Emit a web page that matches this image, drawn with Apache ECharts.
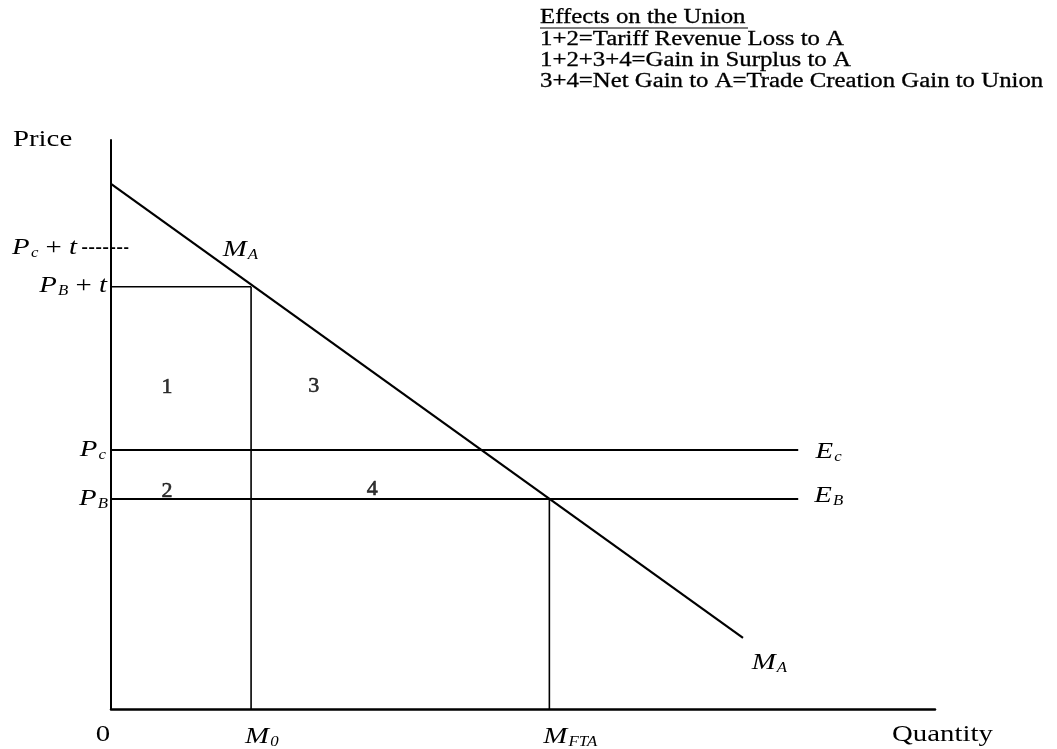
<!DOCTYPE html>
<html>
<head>
<meta charset="utf-8">
<title>Effects on the Union</title>
<script src="https://cdn.jsdelivr.net/npm/echarts@6/dist/echarts.min.js"></script>
<style>
  html, body { margin: 0; padding: 0; background: #fff; }
  #chart { width: 1057px; height: 749px; }
</style>
</head>
<body>
<div id="chart"></div>
<script>
// import demand curve M_A, end points (quantity, price)
const importDemand = [[0, 92.3], [76.7, 12.5]];
// price levels
const priceCt = 81.0;   // Pc + t
const priceBt = 74.2;   // PB + t
const priceC = 45.5;    // Pc
const priceB = 36.9;    // PB
// quantity levels
const qtyM0 = 17.0;
const qtyFTA = 53.2;
// where the E_c / E_B lines stop
const supplyEnd = 83.4;
// short dash of Pc + t across the price axis
const dashSpan = [-3.5, 2.1];
// area numbers
const areaNames = ['1', '2', '3', '4'];
const areaPoints = [[6.8, 56.6], [6.8, 38.2], [24.6, 56.8], [31.7, 38.6]];
// curve names
const curveNames = ['ma', 'ma', 'ec', 'eb'];
const curvePoints = [[15.7, 80.7], [79.9, 8.1], [87.1, 45.2], [87.1, 37.4]];
// legend block, top right
const noteTitle = 'Effects on the Union';
const notes = [
  '1+2=Tariff Revenue Loss to A',
  '1+2+3+4=Gain in Surplus to A',
  '3+4=Net Gain to A=Trade Creation Gain to Union'
];

const SERIF = '"Liberation Serif", "DejaVu Serif", serif';
const INK = '#000';
// the scan is stretched sideways, so text is widened to match
const STRETCH = 1.2;
const NOTE_STRETCH = 1.24;

// rich styles for italic letters with subscripts
const rich = {
  i: { fontFamily: SERIF, fontStyle: 'italic', fontSize: 24, color: INK, verticalAlign: 'top', lineHeight: 25 },
  n: { fontFamily: SERIF, fontSize: 24, color: INK, verticalAlign: 'top', lineHeight: 25 },
  s: { fontFamily: SERIF, fontStyle: 'italic', fontSize: 14, color: INK, verticalAlign: 'bottom', lineHeight: 14, padding: [16, 0, 0, 1] }
};

const curveText = {
  ma: '{i|M}{s|A}',
  ec: '{i|E}{s|c}',
  eb: '{i|E}{s|B}'
};

function segment(data, width) {
  return {
    type: 'line',
    data: data,
    symbol: 'none',
    silent: true,
    lineStyle: { color: INK, width: width }
  };
}

const chart = echarts.init(document.getElementById('chart'));

const option = {
  backgroundColor: '#fff',
  animation: false,
  grid: { left: 111, top: 140, width: 824, height: 569 },
  xAxis: {
    type: 'value',
    min: 0,
    max: 100,
    axisLine: { show: true, onZero: false, lineStyle: { color: INK, width: 2.5 } },
    axisTick: { show: false },
    splitLine: { show: false },
    axisLabel: { show: false }
  },
  yAxis: {
    type: 'value',
    min: 0,
    max: 100,
    axisLine: { show: true, onZero: false, lineStyle: { color: INK, width: 2 } },
    axisTick: { show: false },
    splitLine: { show: false },
    axisLabel: { show: false }
  },
  series: [
    // M_A
    segment(importDemand, 2.2),
    // PB + t to M0
    segment([[0, priceBt], [qtyM0, priceBt]], 1.6),
    segment([[qtyM0, 0], [qtyM0, priceBt]], 1.6),
    // E_c and E_B
    segment([[0, priceC], [supplyEnd, priceC]], 2),
    segment([[0, priceB], [supplyEnd, priceB]], 2),
    // M_FTA
    segment([[qtyFTA, 0], [qtyFTA, priceB]], 1.6),
    // area numbers
    {
      type: 'scatter',
      symbolSize: 0,
      silent: true,
      data: areaPoints.map((p, k) => ({ value: p, name: areaNames[k] })),
      label: {
        show: true,
        position: 'inside',
        formatter: '{b}',
        fontFamily: SERIF,
        fontSize: 22,
        color: INK,
        textBorderColor: INK,
        textBorderWidth: 0.6
      }
    }
  ]
};

chart.setOption(option);

// pixel position of a data point
function px(p) {
  return chart.convertToPixel({ gridIndex: 0 }, p);
}

// a widened text element anchored at a point
function label(text, at, align, dx, dy) {
  return {
    type: 'text',
    x: at[0] + dx,
    y: at[1] + dy,
    scaleX: STRETCH,
    silent: true,
    style: {
      text: text,
      rich: rich,
      font: '24px ' + SERIF,
      fill: INK,
      align: align,
      verticalAlign: 'middle'
    }
  };
}

// Pc + t dash, it crosses the price axis
const dashFrom = px([dashSpan[0], priceCt]);
const dashTo = px([dashSpan[1], priceCt]);

const graphics = [
  {
    type: 'line',
    silent: true,
    shape: { x1: dashFrom[0], y1: dashFrom[1], x2: dashTo[0], y2: dashTo[1] },
    style: { stroke: INK, lineWidth: 1.8, lineDash: [5, 2] }
  },
  // axis names
  label('{n|Price}', [13, 140], 'left', 0, 0),
  label('{n|Quantity}', px([100, 0]), 'left', -43, 26),
  // price axis labels
  label('{i|P}{s|c}{n| + }{i|t}', px([0, priceCt]), 'right', -34, 0),
  label('{i|P}{s|B}{n| + }{i|t}', px([0, priceBt]), 'right', -4, -1),
  label('{i|P}{s|c}', px([0, priceC]), 'right', -5, 0),
  label('{i|P}{s|B}', px([0, priceB]), 'right', -3, 0),
  // quantity axis labels
  label('{n|0}', px([0, 0]), 'center', -8, 26),
  label('{i|M}{s|0}', px([qtyM0, 0]), 'left', -6, 28),
  label('{i|M}{s|FTA}', px([qtyFTA, 0]), 'left', -6, 28)
];

// curve names
curvePoints.forEach((p, k) => {
  graphics.push(label(curveText[curveNames[k]], px(p), 'center', 0, 0));
});

// legend block
graphics.push(
  {
    type: 'text',
    x: 540,
    y: 8,
    scaleX: NOTE_STRETCH,
    silent: true,
    style: { text: noteTitle, font: '20px ' + SERIF, fill: INK, stroke: INK, lineWidth: 0.3 }
  },
  {
    type: 'line',
    silent: true,
    shape: { x1: 540, y1: 28, x2: 748, y2: 28 },
    style: { stroke: INK, lineWidth: 1.2 }
  },
  {
    type: 'text',
    x: 540,
    y: 29,
    scaleX: NOTE_STRETCH,
    silent: true,
    style: { text: notes.join('\n'), font: '20px ' + SERIF, lineHeight: 21, fill: INK, stroke: INK, lineWidth: 0.3 }
  }
);

chart.setOption({ graphic: graphics });
</script>
</body>
</html>
